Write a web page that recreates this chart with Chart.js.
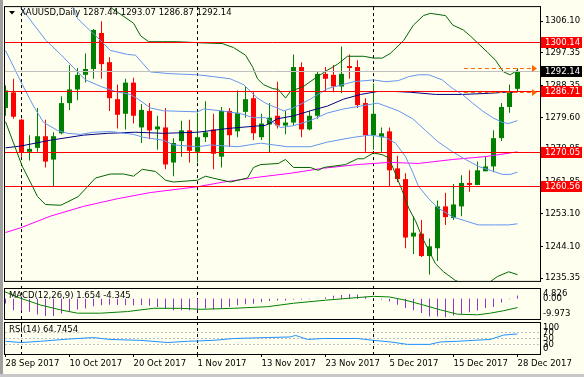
<!DOCTYPE html>
<html>
<head>
<meta charset="utf-8">
<script src="https://cdn.jsdelivr.net/npm/chart.js@4.4.1/dist/chart.umd.min.js"></script>
<style>
  body { margin: 0; background: #fff; }
  #wrap { position: relative; width: 584px; height: 377px; background: #FFFFF0; overflow: hidden; }
  canvas { position: absolute; left: 0; }
  #edgeL { position: absolute; left: 0; top: 0; width: 3px; height: 377px; background: #a0a0a0; }
  #edgeB { position: absolute; left: 0; top: 374px; width: 584px; height: 3px; background: #c8c8c8; }
</style>
</head>
<body>
<div id="wrap">
  <canvas id="cMain" width="584" height="288" style="top:0"></canvas>
  <canvas id="cMacd" width="584" height="36" style="top:286px"></canvas>
  <canvas id="cRsi" width="584" height="55" style="top:322px"></canvas>
  <div id="edgeL"></div><div id="edgeB"></div>
</div>
<script>
// --- datos ---
const symbol = 'XAUUSD', period = 'Daily';
const days = ['28 Sep 2017','29 Sep 2017','2 Oct 2017','3 Oct 2017','4 Oct 2017','5 Oct 2017','6 Oct 2017','9 Oct 2017','10 Oct 2017','11 Oct 2017',
  '12 Oct 2017','13 Oct 2017','16 Oct 2017','17 Oct 2017','18 Oct 2017','19 Oct 2017','20 Oct 2017','23 Oct 2017','24 Oct 2017','25 Oct 2017',
  '26 Oct 2017','27 Oct 2017','30 Oct 2017','31 Oct 2017','1 Nov 2017','2 Nov 2017','3 Nov 2017','6 Nov 2017','7 Nov 2017','8 Nov 2017',
  '9 Nov 2017','10 Nov 2017','13 Nov 2017','14 Nov 2017','15 Nov 2017','16 Nov 2017','17 Nov 2017','20 Nov 2017','21 Nov 2017','22 Nov 2017',
  '23 Nov 2017','24 Nov 2017','27 Nov 2017','28 Nov 2017','29 Nov 2017','30 Nov 2017','1 Dec 2017','4 Dec 2017','5 Dec 2017','6 Dec 2017',
  '7 Dec 2017','8 Dec 2017','11 Dec 2017','12 Dec 2017','13 Dec 2017','14 Dec 2017','15 Dec 2017','18 Dec 2017','19 Dec 2017','20 Dec 2017',
  '21 Dec 2017','22 Dec 2017','26 Dec 2017','27 Dec 2017','28 Dec 2017'];

const open = [1282.18,1286.47,1278.96,1270.11,1271.19,1274.40,1267.97,1275.21,1283.52,1287.27,
  1291.29,1292.90,1302.82,1294.78,1284.59,1280.57,1289.15,1276.82,1281.37,1276.28,
  1276.82,1267.16,1273.06,1276.01,1270.11,1274.13,1276.28,1268.77,1281.37,1275.74,
  1281.10,1284.86,1274.13,1277.62,1280.03,1277.35,1278.16,1293.44,1276.28,1280.03,
  1291.56,1291.29,1288.08,1293.70,1293.44,1283.52,1274.67,1274.13,1275.74,1265.55,
  1262.60,1246.79,1247.59,1241.42,1243.57,1255.09,1251.88,1255.09,1261.53,1260.99,
  1264.75,1266.09,1273.87,1282.45,1287.44];
const high = [1288.34,1290.22,1279.23,1274.67,1282.18,1278.96,1275.47,1285.39,1293.97,1293.17,
  1297.19,1303.89,1306.04,1296.12,1288.61,1290.22,1290.49,1283.25,1283.52,1280.03,
  1282.18,1273.87,1278.69,1278.96,1280.84,1284.05,1280.57,1282.45,1282.18,1287.00,
  1288.08,1286.47,1280.57,1283.52,1289.42,1281.37,1296.92,1294.78,1281.37,1292.10,
  1293.44,1293.97,1299.07,1296.92,1295.31,1284.86,1288.88,1276.82,1276.82,1269.04,
  1264.21,1252.41,1251.34,1246.25,1256.70,1258.85,1261.26,1263.68,1265.02,1267.43,
  1268.77,1276.01,1283.52,1288.61,1293.07];
const low = [1280.03,1279.23,1268.77,1267.70,1270.11,1265.82,1260.46,1274.94,1281.64,1284.32,
  1289.15,1290.22,1290.22,1281.37,1276.55,1276.28,1277.89,1272.53,1273.60,1270.65,
  1265.29,1263.41,1268.77,1267.16,1267.16,1272.79,1265.29,1265.82,1271.45,1274.13,
  1279.50,1273.33,1273.33,1269.85,1276.55,1274.94,1277.35,1274.13,1276.01,1279.23,
  1286.73,1286.47,1286.20,1290.22,1282.18,1270.11,1270.65,1270.11,1260.73,1261.80,
  1243.57,1241.96,1241.16,1236.33,1240.09,1250.00,1251.34,1252.41,1259.12,1260.99,
  1264.75,1264.48,1273.06,1280.84,1286.87];
const close = [1287.00,1279.76,1269.85,1270.92,1274.40,1267.43,1274.40,1283.52,1287.27,1291.29,
  1292.90,1303.63,1294.24,1284.86,1280.30,1289.15,1280.03,1281.64,1276.01,1277.08,
  1266.63,1272.53,1276.01,1270.38,1274.13,1275.47,1269.58,1281.37,1274.67,1280.84,
  1284.59,1275.21,1277.89,1279.50,1277.35,1278.16,1293.44,1276.28,1280.03,1291.56,
  1290.22,1288.08,1291.56,1293.17,1282.98,1274.67,1280.57,1275.21,1265.02,1262.60,
  1246.52,1247.86,1241.42,1244.10,1255.09,1252.15,1255.63,1261.53,1260.99,1265.02,
  1266.09,1273.87,1282.45,1286.47,1292.14];

// bandas y medias: pares [indice de barra, precio]
const bbUp = [[8.4,1309.9],[9,1306.8],[10.6,1303.4],[11.9,1300.7],[13.1,1298.0],[15.25,1296.9],[16.25,1296.7],[18.1,1292.1],
  [20.6,1291.6],[24,1291.3],[26,1290.8],[28.1,1290.2],[29.75,1288.6],[31.5,1284.9],[32.5,1283.5],[34.75,1281.4],[36,1282.2],
  [38.1,1284.6],[40.25,1287.5],[43.5,1289.4],[46,1289.9],[47.5,1289.4],[49.1,1289.7],[50.4,1290.8],[51.6,1291.3],[52.9,1291.3],
  [54.6,1289.9],[55.9,1287.5],[57.1,1285.9],[58.4,1283.5],[59.6,1281.4],[60.9,1279.5],[62.1,1278.2],[62.9,1277.9],[64,1278.7]];
const bbMid = [[1.9,1309.9],[5,1300.9],[6.9,1296.9],[10,1289.9],[11.9,1288.1],[13.75,1286.7],[15.6,1285.9],[16.6,1284.6],
  [18.1,1282.2],[19.75,1281.4],[24,1281.1],[24.75,1281.9],[26.9,1281.4],[29.4,1280.6],[31,1279.5],[32.5,1279.5],[34.4,1276.8],
  [36,1277.3],[38.1,1278.7],[40.25,1280.8],[42.25,1281.9],[44.4,1282.7],[46.5,1283.5],[47.5,1282.7],[49.1,1281.4],[50.9,1279.2],
  [52.5,1276.0],[54.1,1272.8],[55.9,1270.1],[57.5,1268.0],[59.1,1266.1],[60.9,1264.8],[62.1,1263.9],[63.1,1263.9],[64,1264.5]];
const bbLow = [[0,1298.0],[2.1,1288.6],[3.5,1282.7],[4.75,1278.2],[6.5,1276.0],[7.75,1275.2],[9.4,1274.9],[11,1275.5],
  [13.1,1275.7],[16,1274.9],[17.25,1274.1],[19.75,1273.3],[21,1272.0],[24,1271.5],[25.6,1272.0],[29,1271.5],[31.9,1272.5],
  [35.25,1271.5],[38.1,1271.5],[40.25,1272.8],[43.5,1274.1],[45.6,1274.7],[47.5,1274.1],[48.75,1272.5],[50,1268.8],[50.9,1264.5],
  [51.6,1260.7],[52.9,1257.2],[54.1,1254.6],[55.9,1252.2],[57.5,1251.1],[59.1,1250.0],[61.25,1250.0],[62.9,1250.0],[64,1250.3]];
const bb2Up = [[13.1,1309.9],[16,1305.5],[16.9,1302.0],[17.9,1300.4],[19.6,1300.4],[21.5,1300.4],[24.4,1300.1],[27.1,1299.9],
  [28.5,1298.8],[30,1296.7],[30.9,1293.4],[31.5,1290.2],[32.25,1288.6],[33.4,1287.5],[34.1,1287.3],[35,1284.9],[35.6,1286.7],
  [37.25,1288.1],[39,1290.8],[40.25,1292.6],[41.5,1294.2],[42.75,1296.4],[44.75,1296.4],[46,1295.9],[47.1,1295.9],[48.1,1297.2],
  [48.5,1298.0],[49.75,1300.7],[51,1305.0],[52.25,1307.6],[53.1,1308.2],[55,1307.6],[55.9,1305.0],[57.25,1303.6],[58.1,1302.0],
  [59,1300.1],[60.25,1297.5],[61.25,1295.3],[62.25,1292.1],[63.1,1291.3],[64,1292.6]];
const bb2Low = [[0,1278.4],[2.1,1266.1],[3.4,1260.5],[4,1257.8],[5,1255.6],[6.9,1255.4],[9.1,1257.8],[11.25,1262.9],
  [13.1,1264.0],[14.75,1264.0],[16,1263.4],[17.1,1265.3],[18.75,1264.7],[20,1262.3],[21,1261.8],[24,1262.3],[25,1263.4],
  [25.9,1262.9],[28.1,1261.8],[30.25,1262.9],[31,1265.8],[31.9,1266.6],[34.1,1266.9],[35,1268.0],[36,1265.8],[38.1,1265.8],
  [39.1,1265.0],[39.75,1265.8],[42.5,1266.6],[44,1268.2],[44.75,1268.2],[46,1269.8],[47.1,1269.3],[47.9,1268.5],[48.75,1264.0],
  [49.6,1259.4],[50.4,1254.6],[51.25,1251.1],[52.1,1246.5],[52.9,1243.0],[53.75,1239.3],[54.75,1237.1],[56.25,1234.7],
  [57.5,1233.6],[59.4,1233.6],[60.6,1234.4],[61.5,1235.8],[62.9,1237.1],[64,1236.3]];
const maSlow = [[0,1271.2],[1.9,1271.7],[5.6,1273.3],[9.75,1274.7],[12.75,1275.2],[16.25,1275.5],[19.75,1275.2],[24,1275.5],
  [28.1,1276.6],[32.5,1277.4],[34,1279.2],[36,1280.0],[38.1,1281.4],[40.25,1282.7],[42.25,1284.6],[44.4,1285.9],[46.5,1286.7],
  [48.75,1286.7],[50.6,1286.5],[53.75,1285.9],[57.1,1285.9],[60.4,1286.2],[62.5,1286.5],[64,1286.5]];
const maLong = [[0,1247.9],[1.9,1249.2],[5.6,1252.4],[9.75,1255.1],[14,1257.2],[18.1,1258.9],[24,1260.5],[27.25,1261.8],
  [31.5,1263.1],[35.6,1264.2],[39.75,1265.6],[44,1266.6],[48,1267.2],[51.6,1266.9],[55.9,1268.0],[60,1268.8],[64,1270.1]];

const levels = [1300.14, 1286.71, 1270.05, 1260.56];
const orderLines = [1292.9, 1286.4];
const orderFrom = 57.3;
const priceTicks = [1306.10, 1297.35, 1288.35, 1279.60, 1270.85, 1261.85, 1253.10, 1244.10, 1235.35];
const dateTicks = [0, 8, 16, 24, 32, 40, 48, 56, 64];

// MACD(12,26,9): histograma (linea principal) y senal
const macdMain = [-2.3,-5.6,-6.0,-6.4,-7.7,-8.5,-8.5,-7.2,-6.4,-5.3,
  -4.8,-3.7,-3.2,-2.9,-3.1,-3.2,-3.3,-3.1,-3.4,-4.0,
  -4.8,-5.6,-5.6,-5.6,-5.6,-4.8,-5.3,-4.8,-4.0,-3.2,
  -2.7,-2.4,-1.6,-1.1,-0.8,-0.8,-0.4,-0.3,-0.2,0.1,
  0.8,1.5,1.9,2.4,2.1,1.1,0.3,-0.4,-1.3,-2.9,
  -4.5,-5.7,-7.0,-8.7,-8.7,-9.1,-8.3,-7.4,-6.6,-5.8,
  -4.5,-4.0,-1.8,-0.2,1.654];
const sigAt  = [-1, 0, 2, 4.4, 6.9, 9, 11.9, 15.25, 18.5, 21.9, 24.4, 28.5, 32.75, 36, 40, 44, 46, 48, 50, 52.25, 54.4, 56.5, 59, 60.6, 62.25, 64];
const sigVal = [4.826, 3.3, 0.1, -3.1, -5.5, -7.1, -7.1, -6.3, -4.7, -4.7, -5.2, -4.7, -3.9, -2.2, -0.7, 0.6, 1.2, 0.9, -0.7, -3.1, -5.5, -7.6, -7.9, -7.1, -5.9, -4.345];
const macdTicks = ['4.826', '0.00', '-9.973'];

// RSI(14)
const rsiAt  = [0, 2, 4.4, 7.75, 11, 13, 16.9, 20.25, 22.75, 26, 28.5, 32.75, 35.6, 36.25, 37.75, 39.75, 44, 46, 48.1, 50.25, 53, 54.4, 56.5, 58.5, 60.6, 62.25, 64];
const rsiVal = [41, 37, 41, 48, 53, 47, 44, 37, 41, 44, 50, 53, 55, 60, 47, 50, 50, 44, 39, 31, 31, 39, 41, 44, 47, 61, 64.7454];
const rsiTicks = ['100', '70', '50', '30', '0'];
const rsiLevels = [70, 50, 30];

// --- configuracion ---
const FONT = '8.5px "DejaVu Sans"';
Chart.defaults.font.family = 'DejaVu Sans';
Chart.defaults.font.size = 8.5;
Chart.defaults.color = '#000';

const UP = '#008000', DOWN = '#FF0000';
const X_MIN = -0.0625, X_MAX = 66.8125;   // 8 px por barra
const last = close.length - 1;
const idx = close.map((_, i) => i);
const monthStarts = idx.filter(i => i > 0 && days[i].split(' ')[1] !== days[i - 1].split(' ')[1]);
const pts = arr => arr.map(([x, y]) => ({x, y}));

function hline(ctx, x0, y, x1) { ctx.beginPath(); ctx.moveTo(x0, y); ctx.lineTo(x1, y); ctx.stroke(); }

const panel = {
  id: 'panel',
  beforeDatasetsDraw(chart, args, opts) {
    const {ctx, chartArea: a, scales: {x}} = chart;
    ctx.save();
    ctx.strokeStyle = '#000'; ctx.lineWidth = 1; ctx.setLineDash([3, 3]);
    monthStarts.forEach(i => {
      const px = Math.floor(x.getPixelForValue(i)) + 0.5;
      ctx.beginPath(); ctx.moveTo(px, opts.sepTop !== undefined ? opts.sepTop : a.top); ctx.lineTo(px, a.bottom); ctx.stroke();
    });
    ctx.restore();
  },
  afterDraw(chart) {
    const {ctx, chartArea: a} = chart;
    ctx.save();
    ctx.strokeStyle = '#000'; ctx.lineWidth = 1;
    ctx.strokeRect(a.left - 0.5, a.top - 0.5, a.right - a.left + 1, a.bottom - a.top + 1);
    ctx.restore();
  }
};

function sideText(texts, title) {
  return {
    id: 'sideText',
    afterDraw(chart) {
      const {ctx, chartArea: a, scales: {y}} = chart;
      ctx.save();
      ctx.font = FONT; ctx.fillStyle = '#000'; ctx.textBaseline = 'middle'; ctx.textAlign = 'left';
      texts.forEach(t => {
        let py = y.getPixelForValue(parseFloat(t));
        py = Math.min(Math.max(py, a.top + 5), a.bottom - 5);
        ctx.fillText(t, a.right + 3, py);
      });
      ctx.fillText(title, a.left + 4, a.top + 7);
      ctx.restore();
    }
  };
}

const mainOverlay = {
  id: 'mainOverlay',
  afterDatasetsDraw(chart) {
    const {ctx, chartArea: a, scales: {x, y}} = chart;
    const row = v => Math.floor(y.getPixelForValue(v)) + 0.5;
    ctx.save();
    ctx.lineWidth = 1;
    ctx.strokeStyle = '#C0C0C0';
    hline(ctx, a.left, row(close[last]), a.right);
    ctx.strokeStyle = '#FF0000';
    levels.forEach(v => hline(ctx, a.left, row(v), a.right));
    ctx.strokeStyle = '#FF6600'; ctx.fillStyle = '#FF6600';
    orderLines.forEach(v => {
      const py = row(v), tip = a.right - 3;
      ctx.setLineDash([4, 3]);
      hline(ctx, x.getPixelForValue(orderFrom), py, tip - 4);
      ctx.setLineDash([]);
      ctx.beginPath(); ctx.moveTo(tip, py); ctx.lineTo(tip - 5, py - 3.5); ctx.lineTo(tip - 5, py + 3.5); ctx.closePath(); ctx.fill();
    });
    ctx.restore();
  },
  afterDraw(chart) {
    const {ctx, chartArea: a, scales: {y}} = chart;
    ctx.save();
    ctx.font = FONT; ctx.textBaseline = 'middle'; ctx.textAlign = 'left';
    // cabecera
    ctx.fillStyle = '#000';
    ctx.beginPath(); ctx.moveTo(9, 11); ctx.lineTo(15, 11); ctx.lineTo(12, 14.5); ctx.closePath(); ctx.fill();
    const ohlc = [open[last], high[last], low[last], close[last]].map(v => v.toFixed(2)).join(' ');
    ctx.fillText(symbol + ',' + period + ' ' + ohlc, 20, 12.5);
    // etiquetas del eje de precios
    const tag = (v, color) => {
      const py = Math.floor(y.getPixelForValue(v));
      ctx.fillStyle = color; ctx.fillRect(a.right + 1, py - 5, 41, 11);
      ctx.fillStyle = '#fff'; ctx.fillText(v.toFixed(2), a.right + 5, py + 0.5);
    };
    levels.forEach(v => tag(v, '#FF0000'));
    tag(close[last], '#000');
    ctx.restore();
  }
};

const xHidden = {type: 'linear', min: X_MIN, max: X_MAX, offset: false, display: false, grid: {display: false}};
const yPlain = (min, max) => ({position: 'right', min, max, afterFit: s => { s.width = 44; },
  ticks: {display: false}, grid: {display: false}, border: {display: false}});
const lineSet = (data, color, order) => ({type: 'line', data: pts(data), borderColor: color, borderWidth: 1,
  pointRadius: 0, tension: 0, clip: 0, order});
const common = {responsive: false, animation: false, devicePixelRatio: 1, events: [],
  plugins: {legend: {display: false}, tooltip: {enabled: false}}};

new Chart(document.getElementById('cMain'), {
  type: 'bar',
  data: {datasets: [
    {type: 'bar', data: idx.map(i => ({x: i, y: [low[i], high[i]]})), barThickness: 1, grouped: false, inflateAmount: 0,
      backgroundColor: c => close[c.dataIndex] >= open[c.dataIndex] ? UP : DOWN, order: 9},
    {type: 'bar', data: idx.map(i => ({x: i, y: [open[i], close[i]]})), barThickness: 5, grouped: false, inflateAmount: 0,
      backgroundColor: c => close[c.dataIndex] >= open[c.dataIndex] ? UP : DOWN, order: 8},
    lineSet(maLong, '#FF00FF', 7),
    lineSet(maSlow, '#000080', 6),
    lineSet(bb2Up, '#006400', 5),
    lineSet(bb2Low, '#006400', 5),
    lineSet(bbUp, '#6495ED', 4),
    lineSet(bbMid, '#6495ED', 4),
    lineSet(bbLow, '#6495ED', 4)
  ]},
  options: Object.assign({}, common, {
    layout: {padding: {left: 5, top: 4, bottom: 3, right: 0}},
    scales: {
      x: xHidden,
      y: {position: 'right', min: 1234.59, max: 1309.93,
        afterFit: s => { s.width = 44; },
        afterBuildTicks: s => { s.ticks = priceTicks.map(v => ({value: v})); },
        ticks: {callback: v => v.toFixed(2), padding: 2, autoSkip: false},
        grid: {drawOnChartArea: false, drawTicks: true, tickLength: 3, color: '#000'},
        border: {display: false}}
    }
  }),
  plugins: [panel, mainOverlay]
});

new Chart(document.getElementById('cMacd'), {
  type: 'bar',
  data: {datasets: [
    {type: 'bar', data: macdMain.map((v, i) => ({x: i, y: v})), barThickness: 1, inflateAmount: 0,
      backgroundColor: '#9932CC', order: 2},
    {type: 'line', data: sigAt.map((x, k) => ({x, y: sigVal[k]})), borderColor: '#008000', borderWidth: 1,
      pointRadius: 0, tension: 0, clip: 0, order: 1}
  ]},
  options: Object.assign({}, common, {
    layout: {padding: {left: 5, top: 3, bottom: 3, right: 0}},
    plugins: Object.assign({}, common.plugins, {panel: {sepTop: 0}}),
    scales: {x: xHidden, y: yPlain(parseFloat(macdTicks[2]), parseFloat(macdTicks[0]))}
  }),
  plugins: [panel, sideText(macdTicks, 'MACD(12,26,9) ' + macdMain[last].toFixed(3) + ' ' + sigVal[sigVal.length - 1].toFixed(3))]
});

const rsiLevelsPlugin = {
  id: 'rsiLevels',
  beforeDatasetsDraw(chart) {
    const {ctx, chartArea: a, scales: {y}} = chart;
    ctx.save();
    ctx.strokeStyle = '#C0C0C0'; ctx.lineWidth = 1; ctx.setLineDash([2, 2]);
    rsiLevels.forEach(v => hline(ctx, a.left, Math.floor(y.getPixelForValue(v)) + 0.5, a.right));
    ctx.restore();
  }
};

new Chart(document.getElementById('cRsi'), {
  type: 'line',
  data: {datasets: [
    {data: rsiAt.map((x, k) => ({x, y: rsiVal[k]})), borderColor: '#1E90FF', borderWidth: 1, pointRadius: 0, tension: 0, clip: 0}
  ]},
  options: Object.assign({}, common, {
    layout: {padding: {left: 5, top: 1, bottom: 0, right: 0}},
    plugins: Object.assign({}, common.plugins, {panel: {sepTop: 0}}),
    scales: {
      x: {type: 'linear', min: X_MIN, max: X_MAX, offset: false, position: 'bottom',
        afterFit: s => { s.height = 23; },
        afterBuildTicks: s => { s.ticks = dateTicks.map(v => ({value: v})); },
        ticks: {callback: v => days[v], align: 'start', maxRotation: 0, autoSkip: false, padding: 2},
        grid: {drawOnChartArea: false, drawTicks: true, tickLength: 3, color: '#000'},
        border: {display: false}},
      y: yPlain(0, 100)
    }
  }),
  plugins: [rsiLevelsPlugin, panel, sideText(rsiTicks, 'RSI(14) ' + rsiVal[rsiVal.length - 1].toFixed(4))]
});
</script>
</body>
</html>
